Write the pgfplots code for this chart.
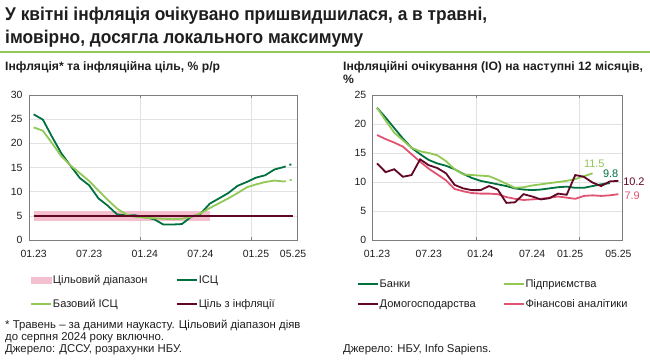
\documentclass[border=0pt]{standalone}
\usepackage{fontspec}
\setmainfont{Liberation Sans}
\newfontfamily\titlefont[FakeStretch=0.94]{Liberation Sans}
\usepackage{pgfplots}
\usepackage{pgfplotstable}
\pgfplotsset{compat=1.18}
\definecolor{dgreen}{RGB}{0,112,62}
\definecolor{lgreen}{RGB}{146,200,86}
\definecolor{maroon}{RGB}{98,6,38}
\definecolor{pinkline}{RGB}{224,84,114}
\definecolor{bandpink}{RGB}{244,192,208}
\definecolor{framegray}{RGB}{125,125,125}
\definecolor{gridgray}{RGB}{226,226,226}
\definecolor{txt}{RGB}{30,30,30}

\pgfplotstableread{
i cpi core
0 26.0 23.3
1 24.9 22.6
2 21.3 20.0
3 17.9 17.3
4 15.3 15.4
5 12.8 13.8
6 11.3 12.2
7 8.6 10.2
8 7.1 8.3
9 5.3 6.5
10 5.1 5.3
11 5.1 4.8
12 4.7 4.6
13 4.3 4.5
14 3.2 4.4
15 3.2 4.3
16 3.3 4.4
17 4.8 4.8
18 5.4 5.5
19 7.5 6.6
20 8.6 7.6
21 9.7 8.6
22 11.2 9.7
23 12.0 10.9
24 12.9 11.5
25 13.4 12.0
26 14.6 12.3
27 15.1 12.1
}\leftdata

\pgfplotstableread{
i v
0 22.8
1 21.1
2 19.3
3 17.5
4 15.9
5 14.8
6 13.8
7 13.2
8 12.8
9 12.2
10 11.4
11 10.7
12 10.2
13 9.9
14 9.6
15 9.3
16 8.9
17 8.7
18 8.6
19 8.7
20 8.9
21 9.1
22 9.2
23 9.0
24 9.0
25 9.3
26 9.6
27 9.8
}\banks

\pgfplotstableread{
i v
0 22.8
1 20.6
2 18.5
3 17.2
4 15.9
5 15.3
6 15.0
7 14.6
8 13.6
9 12.2
10 11.3
11 11.2
12 11.1
13 11.0
14 10.4
15 9.7
16 9.0
17 9.1
18 9.4
19 9.6
20 9.8
21 10.0
22 10.2
23 10.5
24 11.0
25 11.5
}\firms

\pgfplotstableread{
i v
0 13.2
1 11.7
2 12.2
3 10.9
4 11.2
5 13.9
6 12.9
7 12.4
8 11.5
9 9.5
10 8.9
11 8.6
12 8.6
13 9.3
14 8.7
15 6.4
16 6.5
17 7.9
18 7.5
19 7.0
20 7.2
21 8.0
22 7.8
23 11.2
24 10.9
25 9.9
26 9.3
27 10.1
28 10.2
}\households

\pgfplotstableread{
i v
0 18.1
1 17.4
2 16.8
3 16.1
4 14.8
5 13.5
6 12.3
7 11.3
8 10.3
9 8.8
10 8.4
11 8.1
12 8.0
13 8.0
14 7.9
15 7.4
16 7.1
17 6.9
18 7.0
19 7.1
20 7.3
21 7.5
22 7.3
23 7.1
24 7.6
25 7.7
26 7.6
27 7.7
28 7.9
}\analysts

\pgfplotsset{
  myaxis/.style={
    scale only axis,
    xmin=-0.5, xmax=28.5, ymin=0,
    axis line style={framegray, line width=0.8bp},
    ymajorgrids,
    grid style={gridgray, line width=0.6bp},
    xtick={0,6,12,18,24,28},
    xticklabels={01.23,07.23,01.24,07.24,01.25,05.25},
    major tick length=0pt,
    extra x ticks={11.5,23.5},
    extra x tick labels={},
    extra x tick style={grid=major, major tick length=3bp, tick style={framegray, line width=0.6bp}},
    tick label style={font=\fontsize{10.5}{12}\selectfont, text=txt},
    /pgf/number format/assume math mode=true,
    xticklabel style={yshift=-6.5bp},
    yticklabel style={xshift=-3bp},
    clip=false,
    legend style={draw=none, fill=none, inner sep=0pt,
      font=\fontsize{11.1}{13}\selectfont, text=txt,
      at={(axis description cs:0,0)}, anchor=north west,
      nodes={inner sep=1bp},
      /tikz/every even column/.append style={column sep=2bp}},
    legend columns=2,
    legend cell align=left,
  },
  lineleg/.style={legend image code/.code={\draw[#1, line width=1.8bp] (0bp,0bp) -- (20bp,0bp);}},
}

\begin{document}
\begin{tikzpicture}[x=1bp,y=1bp]
\useasboundingbox (0,0) rectangle (650,359);
\node[anchor=base west, inner sep=0, text=txt, font=\titlefont\bfseries\fontsize{18.5}{22}\selectfont] at (5,339) {У квітні інфляція очікувано пришвидшилася, а в травні,};
\node[anchor=base west, inner sep=0, text=txt, font=\titlefont\bfseries\fontsize{18.5}{22}\selectfont] at (5,316) {імовірно, досягла локального максимуму};
\draw[lgreen, line width=2bp] (0,307) -- (650,307);
\node[anchor=base west, inner sep=0, text=txt, font=\bfseries\fontsize{12.2}{13}\selectfont] at (5,289) {Інфляція* та інфляційна ціль, \% р/р};
\node[anchor=base west, inner sep=0, text=txt, font=\bfseries\fontsize{12.2}{13}\selectfont] at (343,289) {Інфляційні очікування (ІО) на наступні 12 місяців,};
\node[anchor=base west, inner sep=0, text=txt, font=\bfseries\fontsize{12.2}{13}\selectfont] at (343,276) {\%};
\node[anchor=base west, inner sep=0, text=txt, font=\fontsize{11.4}{12}\selectfont] at (5,30.3) {* Травень -- за даними наукасту. Цільовий діапазон діяв};
\node[anchor=base west, inner sep=0, text=txt, font=\fontsize{11.4}{12}\selectfont] at (5,18.3) {до серпня 2024 року включно.};
\node[anchor=base west, inner sep=0, text=txt, font=\fontsize{11.4}{12}\selectfont] at (5,6.3) {Джерело: ДССУ, розрахунки НБУ.};
\node[anchor=base west, inner sep=0, text=txt, font=\fontsize{11.4}{12}\selectfont] at (343,6.3) {Джерело: НБУ, Info Sapiens.};

\begin{axis}[myaxis, at={(29bp,119bp)}, anchor=south west,
  width=268.7bp, height=145bp, ymax=30, ytick={0,5,...,30},
  legend style={xshift=1bp, yshift=-34bp, row sep=12bp}]
\addplot[fill=bandpink, draw=none, forget plot]
  coordinates {(0,4) (19,4) (19,6) (0,6)} -- cycle;
\addplot[dgreen, line width=1.8bp, forget plot] table[x=i, y=cpi] {\leftdata};
\addplot[lgreen, line width=1.8bp, forget plot] table[x=i, y=core] {\leftdata};
\addplot[maroon, line width=1.8bp, forget plot] coordinates {(0,5) (28,5)};
\addplot[dgreen, line width=1.8bp, dash pattern=on 2bp off 4bp, forget plot] coordinates {(27,15.1) (28,15.8)};
\addplot[lgreen, line width=1.8bp, dash pattern=on 2bp off 4bp, forget plot] coordinates {(27,12.1) (28,12.5)};
\addlegendimage{legend image code/.code={\fill[bandpink] (0bp,-3bp) rectangle (20bp,3bp);}}
\addlegendentry{\makebox[120bp][l]{Цільовий діапазон}}
\addlegendimage{lineleg=dgreen}
\addlegendentry{ІСЦ}
\addlegendimage{lineleg=lgreen}
\addlegendentry{\makebox[120bp][l]{Базовий ІСЦ}}
\addlegendimage{lineleg=maroon}
\addlegendentry{Ціль з інфляції}
\end{axis}

\begin{axis}[myaxis, at={(372.7bp,119bp)}, anchor=south west,
  width=250bp, height=145bp, ymax=25, ytick={0,5,...,25},
  xtick={0,6,12,18,22.4,28},
  legend style={xshift=-16bp, yshift=-38bp, row sep=8.5bp}]
\addplot[pinkline, line width=1.8bp, forget plot] table[x=i, y=v] {\analysts};
\addplot[dgreen, line width=1.8bp, forget plot] table[x=i, y=v] {\banks};
\addplot[lgreen, line width=1.8bp, forget plot] table[x=i, y=v] {\firms};
\addplot[maroon, line width=1.8bp, forget plot] table[x=i, y=v] {\households};
\addlegendimage{lineleg=dgreen}
\addlegendentry{\makebox[120bp][l]{Банки}}
\addlegendimage{lineleg=lgreen}
\addlegendentry{Підприємства}
\addlegendimage{lineleg=maroon}
\addlegendentry{\makebox[120bp][l]{Домогосподарства}}
\addlegendimage{lineleg=pinkline}
\addlegendentry{Фінансові аналітики}
\node[text=lgreen, font=\fontsize{11}{12}\selectfont] at (axis cs:25.2,13.1) {11.5};
\node[text=dgreen, font=\fontsize{11}{12}\selectfont] at (axis cs:27.1,11.4) {9.8};
\node[text=maroon, font=\fontsize{11}{12}\selectfont] at (axis cs:29.8,10.0) {10.2};
\node[text=pinkline, font=\fontsize{11}{12}\selectfont] at (axis cs:29.6,7.6) {7.9};
\end{axis}
\end{tikzpicture}
\end{document}
